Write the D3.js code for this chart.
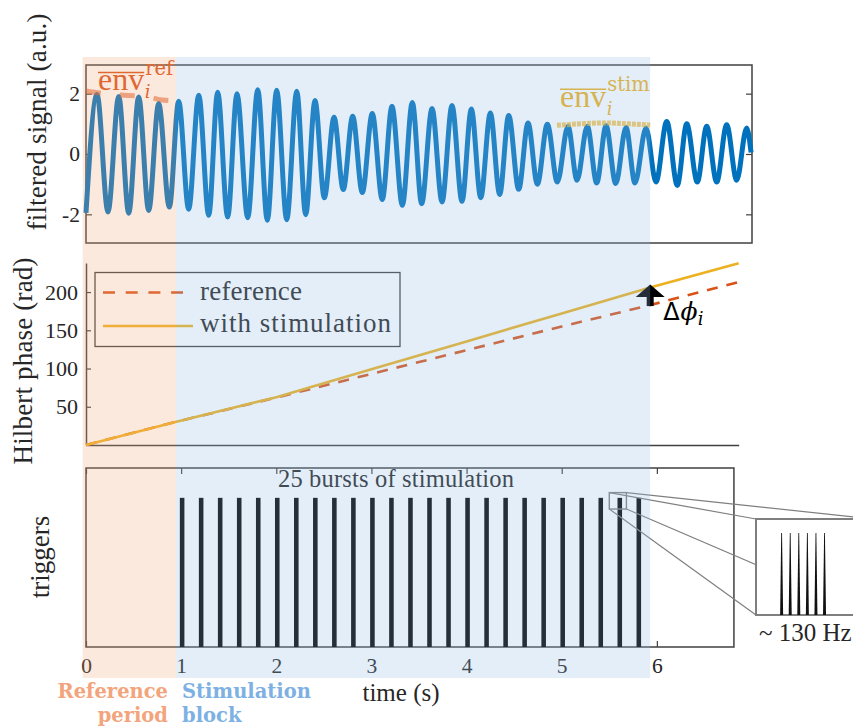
<!DOCTYPE html>
<html>
<head>
<meta charset="utf-8">
<script src="https://cdn.jsdelivr.net/npm/d3@7"></script>
<style>
  body { margin: 0; background: #fff; }
  svg { display: block; }
</style>
</head>
<body>
<div id="chart"></div>
<script>
// ---- Data ----
// filtered signal: successive troughs / peaks (time s, value a.u.)
const sigT = [0, 0.116, 0.231, 0.344, 0.449, 0.554, 0.659, 0.764, 0.876, 0.974,
  1.079, 1.185, 1.290, 1.384, 1.489, 1.587, 1.700, 1.805, 1.906, 2.004,
  2.110, 2.215, 2.309, 2.407, 2.505, 2.607, 2.704, 2.803, 2.904, 3.009,
  3.114, 3.216, 3.325, 3.430, 3.528, 3.637, 3.742, 3.847, 3.952, 4.050,
  4.149, 4.250, 4.348, 4.443, 4.548, 4.646, 4.744, 4.849, 4.954, 5.066,
  5.161, 5.269, 5.368, 5.466, 5.568, 5.676, 5.770, 5.886, 5.991, 6.104,
  6.215, 6.314, 6.425, 6.524, 6.629, 6.734, 6.839, 6.944, 6.99];
const sigV = [-1.95, 1.97, -1.92, 1.91, -1.96, 1.89, -1.87, 1.67, -1.76, 1.75,
  -1.83, 1.95, -2.03, 2.05, -2.09, 2.0, -2.11, 2.13, -2.2, 2.11,
  -2.18, 2.08, -2.01, 1.77, -1.45, 1.22, -1.18, 1.25, -1.28, 1.34,
  -1.51, 1.58, -1.70, 1.71, -1.65, 1.51, -1.59, 1.61, -1.57, 1.49,
  -1.45, 1.36, -1.34, 1.28, -1.17, 1.03, -1.0, 0.99, -0.93, 0.92,
  -0.87, 0.92, -0.96, 0.94, -0.98, 0.88, -0.96, 0.86, -0.93, 1.08,
  -1.04, 1.0, -0.93, 0.92, -0.93, 0.97, -0.87, 0.86, 0.05];

// mean envelopes
const envRefT = [0, 0.15, 0.45, 0.6, 0.8, 0.93];
const envRefV = [2.09, 2.02, 1.94, 1.92, 1.79, 1.76];
const envStimT = [4.95, 5.2, 5.45, 5.7, 5.93];
const envStimV = [0.95, 1.0, 1.03, 1.0, 0.96];

// Hilbert phase (rad)
const phaseT = [0, 0.95, 2.0, 3.0, 4.0, 5.0, 5.93, 6.86];
const phaseRef = [0, 30.4, 62, 93, 124, 155, 183, 213];
const phaseStim = [0, 30.4, 62.5, 99, 135.5, 172, 206, 237.6];
const deltaT = 5.93;

// triggers: burst onsets (s) and pulse offsets inside a burst (ms, ~130 Hz)
const burstT = [1.0, 1.2, 1.4, 1.6, 1.8, 2.0, 2.2, 2.4, 2.6, 2.8, 3.0, 3.2, 3.4,
  3.6, 3.8, 4.0, 4.2, 4.4, 4.6, 4.8, 5.0, 5.2, 5.4, 5.6, 5.8];
const pulseMs = [0, 7.7, 15.4, 23.1, 30.8, 38.5];

// periods
const refPeriod = [-0.035, 0.946];
const stimBlock = [0.946, 5.93];

// ticks
const topTicks = [-2, 0, 2];
const midTicks = [50, 100, 150, 200];
const timeTicks = [0, 1, 2, 3, 4, 5, 6];

// ---- Setup ----
const W = 853, H = 727;
const SERIF = '"Liberation Serif", "DejaVu Serif", serif';
const INK = '#262626';
const BLUE = '#0072BD', ORANGE = '#D95319', YELLOW = '#EDB120';

const svg = d3.select('#chart').append('svg')
  .attr('width', W).attr('height', H)
  .attr('font-family', SERIF);

const x = d3.scaleLinear().domain([0, 7]).range([86, 752]);
const yTop = d3.scaleLinear().domain([-2.95, 2.95]).range([243, 65]);
const yMid = d3.scaleLinear().domain([0, 238]).range([445, 263]);
const yBot = d3.scaleLinear().domain([0, 1.2]).range([647, 468]);

function styleAxis(g, size) {
  g.selectAll('text').attr('font-family', SERIF).attr('font-size', size).attr('fill', INK);
  g.selectAll('line').attr('stroke', '#404040').attr('stroke-width', 1.2);
  g.select('.domain').attr('stroke', '#404040').attr('stroke-width', 1.5);
}
// stretch the letter spacing so the text spans the same width as in the figure
function fit(sel, width) {
  return sel.attr('textLength', width).attr('lengthAdjust', 'spacing');
}

// ---- Top: filtered signal ----
const topG = svg.append('g');
topG.append('rect')
  .attr('x', x(0)).attr('y', yTop(2.95))
  .attr('width', x(7) - x(0)).attr('height', yTop(-2.95) - yTop(2.95))
  .attr('fill', 'none').attr('stroke', '#404040').attr('stroke-width', 1.5);

topG.append('g').attr('transform', `translate(${x(0)},0)`)
  .call(d3.axisLeft(yTop).tickValues(topTicks).tickSize(-6).tickPadding(6)
    .tickFormat(d => d < 0 ? '-' + Math.abs(d) : d))
  .call(g => g.select('.domain').remove())
  .call(g => styleAxis(g, 21.5));

topG.append('g').attr('transform', `translate(${x(7)},0)`)
  .call(d3.axisRight(yTop).tickValues(topTicks).tickSize(-6).tickFormat(''))
  .call(g => g.select('.domain').remove())
  .call(g => styleAxis(g, 21.5));

const sigPts = sigT.map((t, i) => [t, sigV[i]]);
topG.append('path')
  .datum(sigPts)
  .attr('fill', 'none').attr('stroke', BLUE).attr('stroke-width', 5)
  .attr('stroke-linejoin', 'round')
  .attr('d', d3.line().x(d => x(d[0])).y(d => yTop(d[1])).curve(d3.curveMonotoneX));

const envLine = d3.line().x(d => x(d[0])).y(d => yTop(d[1])).curve(d3.curveMonotoneX);
topG.append('path')
  .datum(envRefT.map((t, i) => [t, envRefV[i]]))
  .attr('fill', 'none').attr('stroke', ORANGE).attr('stroke-opacity', 0.55)
  .attr('stroke-width', 5).attr('stroke-dasharray', '15,19')
  .attr('d', envLine);
topG.append('path')
  .datum(envStimT.map((t, i) => [t, envStimV[i]]))
  .attr('fill', 'none').attr('stroke', YELLOW).attr('stroke-opacity', 0.7)
  .attr('stroke-width', 5).attr('stroke-dasharray', '4,1')
  .attr('d', envLine);

// envelope labels (one text each: env, subscript i, superscript tag)
function envLabel(x0, base, sup, color) {
  const g = topG.append('g').attr('fill', color);
  const t = g.append('text').attr('x', x0).attr('y', base);
  const main = t.append('tspan').attr('font-size', 32).text('env');
  const w = main.node().getComputedTextLength();
  const sub = t.append('tspan').attr('font-family', '"DejaVu Serif", serif')
    .attr('font-style', 'italic').attr('font-size', 18).attr('dx', 0.5).attr('dy', 8).text('i');
  const wi = sub.node().getComputedTextLength();
  t.append('tspan').attr('font-family', '"DejaVu Serif", serif')
    .attr('font-size', 19.5).attr('dx', -wi + 0.5).attr('dy', -23.5).text(sup);
  g.append('line').attr('x1', x0).attr('x2', x0 + w)
    .attr('y1', base - 17.5).attr('y2', base - 17.5)
    .attr('stroke', color).attr('stroke-width', 1.6);
}
envLabel(98, 90, 'ref', ORANGE);
envLabel(560, 106.7, 'stim', YELLOW);

// ---- Middle: Hilbert phase ----
const midG = svg.append('g');
midG.append('g').attr('transform', `translate(${x(0)},0)`)
  .call(d3.axisLeft(yMid).tickValues(midTicks).tickSize(-5).tickSizeOuter(0).tickPadding(8))
  .call(g => styleAxis(g, 22));

const xMid = x.copy().domain([0, 6.86]).range([x(0), x(6.86)]);
midG.append('g').attr('transform', `translate(0,${yMid(0)})`)
  .call(d3.axisBottom(xMid).tickValues([]).tickSizeOuter(0))
  .call(g => styleAxis(g, 22));

const phaseLine = d3.line().x(d => x(d[0])).y(d => yMid(d[1]));
midG.append('path')
  .datum(phaseT.map((t, i) => [t, phaseRef[i]]))
  .attr('fill', 'none').attr('stroke', ORANGE).attr('stroke-width', 2.6)
  .attr('stroke-dasharray', '11,9')
  .attr('d', phaseLine);
midG.append('path')
  .datum(phaseT.map((t, i) => [t, phaseStim[i]]))
  .attr('fill', 'none').attr('stroke', YELLOW).attr('stroke-width', 2.6)
  .attr('d', phaseLine);

// arrow for delta phi
const iD = phaseT.indexOf(deltaT);
const ax = x(deltaT), yS = yMid(phaseStim[iD]), yR = yMid(phaseRef[iD]);
midG.append('rect')
  .attr('x', ax - 3.5).attr('y', yS + 8).attr('width', 7).attr('height', yR - yS - 7)
  .attr('fill', '#000');
midG.append('path')
  .attr('d', `M${ax},${yS - 3}L${ax + 14.5},${yS + 9.5}L${ax - 14.5},${yS + 9.5}Z`)
  .attr('fill', '#000');
const dl = midG.append('text').attr('x', ax + 13).attr('y', yS + 33).attr('fill', '#000');
dl.append('tspan').attr('font-family', '"DejaVu Sans", sans-serif').attr('font-size', 24).text('Δ');
dl.append('tspan').attr('font-family', '"DejaVu Serif", serif').attr('font-style', 'italic')
  .attr('font-size', 25).attr('dx', 1).text('ϕ');
dl.append('tspan').attr('font-family', '"DejaVu Serif", serif').attr('font-style', 'italic')
  .attr('font-size', 18).attr('dy', 5).text('i');

// legend
const leg = midG.append('g');
leg.append('rect').attr('x', 95).attr('y', 272.5).attr('width', 305).attr('height', 74)
  .attr('fill', '#fff').attr('stroke', '#404040').attr('stroke-width', 1.3);
leg.append('line').attr('x1', 103).attr('x2', 183).attr('y1', 292.5).attr('y2', 292.5)
  .attr('stroke', ORANGE).attr('stroke-width', 2.6).attr('stroke-dasharray', '12,10.7');
leg.append('line').attr('x1', 103).attr('x2', 193).attr('y1', 326).attr('y2', 326)
  .attr('stroke', YELLOW).attr('stroke-width', 2.6);
fit(leg.append('text').attr('x', 200).attr('y', 299.5).attr('font-size', 27).attr('fill', INK)
  .text('reference'), 102);
fit(leg.append('text').attr('x', 200).attr('y', 332).attr('font-size', 27).attr('fill', INK)
  .text('with stimulation'), 191);

// ---- Bottom: triggers ----
const botG = svg.append('g');
const xBot = x.copy().domain([0, 6.81]).range([x(0), x(6.81)]);
botG.append('rect')
  .attr('x', xBot(0)).attr('y', yBot(1.2))
  .attr('width', xBot(6.81) - xBot(0)).attr('height', yBot(0) - yBot(1.2))
  .attr('fill', 'none').attr('stroke', '#404040').attr('stroke-width', 1.5);
botG.append('g').attr('transform', `translate(0,${yBot(0)})`)
  .call(d3.axisBottom(xBot).tickValues(timeTicks).tickSize(-6).tickPadding(11)
    .tickFormat(d3.format('d')))
  .call(g => g.select('.domain').remove())
  .call(g => styleAxis(g, 21.5));
botG.append('g').attr('transform', `translate(0,${yBot(1.2)})`)
  .call(d3.axisTop(xBot).tickValues(timeTicks).tickSize(-6).tickFormat(''))
  .call(g => g.select('.domain').remove())
  .call(g => styleAxis(g, 21.5));

const burstLen = pulseMs[pulseMs.length - 1] / 1000;
botG.selectAll('rect.burst').data(burstT).join('rect')
  .attr('class', 'burst')
  .attr('x', d => x(d) - 1.3)
  .attr('width', d => x(d + burstLen) - x(d) + 0.9)
  .attr('y', yBot(1)).attr('height', yBot(0) - yBot(1))
  .attr('fill', '#000');

fit(botG.append('text').attr('x', 278).attr('y', 487)
  .attr('font-size', 24.5).attr('fill', INK).text('25 bursts of stimulation'), 236);

// zoom box + inset
const zoomBox = { t0: 5.5, t1: 5.68, v0: 0.925, v1: 1.035 };
const inset = { x0: 756, x1: 873, y0: 519, y1: 615 };
const zx0 = x(zoomBox.t0), zx1 = x(zoomBox.t1), zy0 = yBot(zoomBox.v1), zy1 = yBot(zoomBox.v0);
const conn = [
  [zx0, zy0, inset.x0, inset.y0],
  [zx1, zy0, inset.x1, inset.y0],
  [zx1, zy1, inset.x1, inset.y1],
  [zx0, zy1, inset.x0, inset.y1]
];
botG.selectAll('line.conn').data(conn).join('line')
  .attr('class', 'conn')
  .attr('x1', d => d[0]).attr('y1', d => d[1]).attr('x2', d => d[2]).attr('y2', d => d[3])
  .attr('stroke', '#7f7f7f').attr('stroke-width', 1.2);
botG.append('rect').attr('x', zx0).attr('y', zy0).attr('width', zx1 - zx0).attr('height', zy1 - zy0)
  .attr('fill', 'none').attr('stroke', '#7f7f7f').attr('stroke-width', 1.4);

const xIn = d3.scaleLinear().domain([-23, 82]).range([inset.x0, inset.x1]);
const yIn = d3.scaleLinear().domain([0, 1.17]).range([inset.y1, inset.y0]);
botG.append('rect').attr('x', inset.x0).attr('y', inset.y0)
  .attr('width', inset.x1 - inset.x0).attr('height', inset.y1 - inset.y0)
  .attr('fill', '#fff').attr('stroke', '#7f7f7f').attr('stroke-width', 2);
botG.selectAll('path.pulse').data(pulseMs).join('path')
  .attr('class', 'pulse')
  .attr('d', d => `M${xIn(d) - 1.5},${yIn(0)}L${xIn(d) - 0.4},${yIn(1)}L${xIn(d) + 0.4},${yIn(1)}L${xIn(d) + 1.5},${yIn(0)}Z`)
  .attr('fill', '#111');
botG.append('text').attr('x', 759).attr('y', 641).attr('font-size', 25).attr('fill', INK)
  .text('~ 130 Hz');

// ---- axis titles ----
fit(svg.append('text').attr('transform', 'translate(46,122) rotate(-90)')
  .attr('text-anchor', 'middle').attr('font-size', 27).attr('fill', INK)
  .text('filtered signal (a.u.)'), 217);
fit(svg.append('text').attr('transform', 'translate(32,361) rotate(-90)')
  .attr('text-anchor', 'middle').attr('font-size', 27).attr('fill', INK)
  .text('Hilbert phase (rad)'), 207);
svg.append('text').attr('transform', 'translate(49,557) rotate(-90)')
  .attr('text-anchor', 'middle').attr('font-size', 27).attr('fill', INK)
  .text('triggers');
svg.append('text').attr('x', 401).attr('y', 701)
  .attr('text-anchor', 'middle').attr('font-size', 25).attr('fill', INK)
  .text('time (s)');

// ---- shaded periods (overlay) ----
const shadeTop = 57, shadeBot = 678;
svg.append('rect')
  .attr('x', x(refPeriod[0])).attr('width', x(refPeriod[1]) - x(refPeriod[0]))
  .attr('y', shadeTop).attr('height', shadeBot - shadeTop)
  .attr('fill', 'rgb(244,168,124)').attr('fill-opacity', 0.25);
svg.append('rect')
  .attr('x', x(stimBlock[0])).attr('width', x(stimBlock[1]) - x(stimBlock[0]))
  .attr('y', shadeTop).attr('height', shadeBot - shadeTop)
  .attr('fill', 'rgb(148,188,228)').attr('fill-opacity', 0.25);

const BOLD = '"DejaVu Serif", serif';
const lab = svg.append('g').attr('font-family', BOLD).attr('font-weight', 'bold').attr('font-size', 19.5);
lab.append('text').attr('x', x(refPeriod[1]) - 8).attr('y', 698).attr('text-anchor', 'end')
  .attr('fill', '#f3a47c').text('Reference');
lab.append('text').attr('x', x(refPeriod[1]) - 8).attr('y', 722).attr('text-anchor', 'end')
  .attr('fill', '#f3a47c').text('period');
lab.append('text').attr('x', x(stimBlock[0]) + 6).attr('y', 698)
  .attr('fill', '#7db0e3').text('Stimulation');
lab.append('text').attr('x', x(stimBlock[0]) + 6).attr('y', 722)
  .attr('fill', '#7db0e3').text('block');
</script>
</body>
</html>
